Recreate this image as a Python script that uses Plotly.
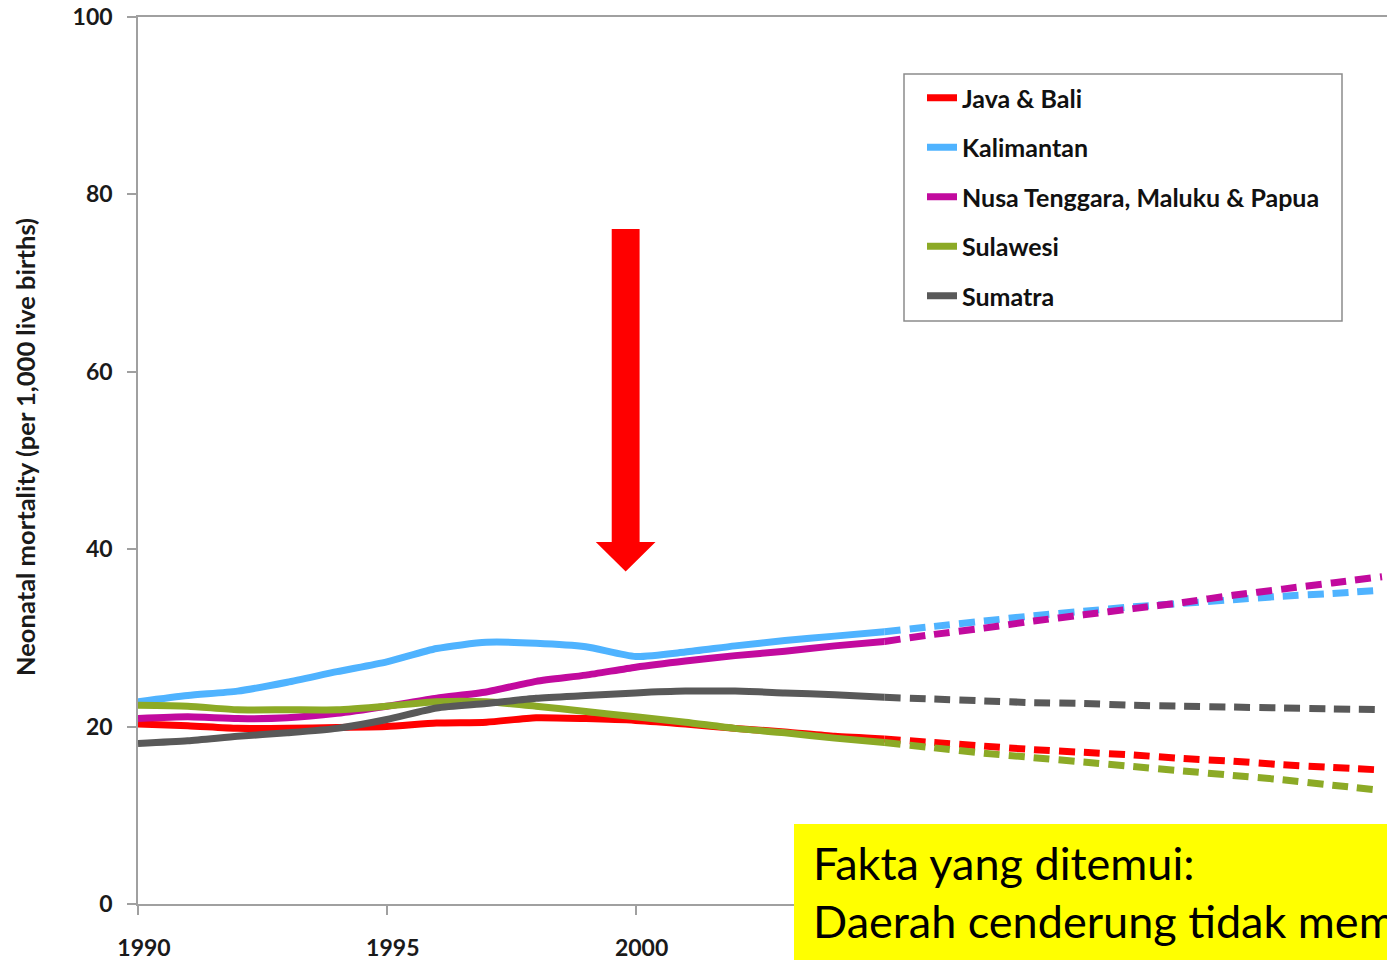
import plotly.graph_objects as go

years = list(range(1990, 2016))
last_observed = 2005

regions = ["Java & Bali", "Kalimantan", "Nusa Tenggara, Maluku & Papua", "Sulawesi", "Sumatra"]
colors = ["#FF0000", "#4FB3FF", "#C20A9E", "#8CAA26", "#595959"]

java_bali = [20.3, 20.1, 19.8, 19.8, 19.9, 20.0, 20.4, 20.5, 21.0, 20.9, 20.7, 20.3, 19.8, 19.4, 18.9, 18.6,
             18.2, 17.8, 17.4, 17.1, 16.8, 16.4, 16.1, 15.7, 15.4, 15.1]
kalimantan = [22.8, 23.5, 24.0, 25.0, 26.2, 27.3, 28.8, 29.5, 29.4, 29.0, 27.9, 28.4, 29.1, 29.7, 30.2, 30.7,
              31.3, 31.9, 32.5, 33.0, 33.5, 33.9, 34.3, 34.7, 35.0, 35.4]
nusa_tenggara = [20.9, 21.1, 20.9, 21.0, 21.5, 22.3, 23.2, 23.9, 25.1, 25.8, 26.7, 27.4, 28.0, 28.5, 29.1, 29.6,
                 30.4, 31.1, 31.9, 32.6, 33.3, 34.0, 34.8, 35.5, 36.2, 36.9]
sulawesi = [22.4, 22.3, 21.9, 21.9, 21.9, 22.3, 22.8, 22.8, 22.3, 21.7, 21.1, 20.5, 19.8, 19.3, 18.7, 18.2,
            17.6, 17.0, 16.5, 16.0, 15.5, 15.0, 14.5, 14.0, 13.4, 12.8]
sumatra = [18.1, 18.4, 18.9, 19.3, 19.8, 20.8, 22.1, 22.6, 23.2, 23.5, 23.8, 24.0, 24.0, 23.8, 23.6, 23.3,
           23.1, 22.9, 22.7, 22.6, 22.4, 22.3, 22.2, 22.1, 22.0, 21.9]

series = [java_bali, kalimantan, nusa_tenggara, sulawesi, sumatra]

x_ticks = [1990, 1995, 2000]
y_ticks = [0, 20, 40, 60, 80, 100]
y_title = "Neonatal mortality (per 1,000 live births)"

fig = go.Figure()
split = years.index(last_observed)
for name, col, vals in zip(regions, colors, series):
    fig.add_trace(go.Scatter(
        x=years[:split + 1], y=vals[:split + 1], mode="lines", name=name,
        legendgroup=name, line=dict(color=col, width=7, shape="spline", smoothing=0.6),
    ))
    fig.add_trace(go.Scatter(
        x=years[split:], y=vals[split:], mode="lines", name=name, showlegend=False,
        legendgroup=name, line=dict(color=col, width=7, dash="16px,9px", shape="spline", smoothing=0.6),
    ))

L, R, T, B = 138, 0, 17, 56
PW, PH = 1387 - L - R, 960 - T - B

def px(xp):
    return (xp - L) / PW

def py(yp):
    return (T + PH - yp) / PH

shapes = []
# legend border
shapes.append(dict(type="rect", xref="paper", yref="paper", x0=px(904), x1=px(1342), y0=py(321), y1=py(74),
                   line=dict(color="#8C8C8C", width=1.5), fillcolor="rgba(0,0,0,0)", layer="above"))
# red arrow (data coordinates)
arrow_path = ("M 1999.52 76.1 L 2000.08 76.1 L 2000.08 40.8 L 2000.4 40.8 L 1999.8 37.5 "
              "L 1999.2 40.8 L 1999.52 40.8 Z")
shapes.append(dict(type="path", xref="x", yref="y", path=arrow_path, fillcolor="#FF0000",
                   line=dict(color="#FF0000", width=0), layer="above"))
# yellow box
shapes.append(dict(type="rect", xref="paper", yref="paper", x0=px(794), x1=1.2, y0=py(1000), y1=py(824),
                   fillcolor="#FFFF00", line=dict(width=0), layer="above"))

annotations = [
    dict(xref="paper", yref="paper", x=px(811), y=py(863), xanchor="left", yanchor="middle",
         text="Fakta yang ditemui:", showarrow=False,
         font=dict(family="Lato", size=45, color="#000000")),
    dict(xref="paper", yref="paper", x=px(811), y=py(921), xanchor="left", yanchor="middle",
         text="Daerah cenderung tidak mem", showarrow=False,
         font=dict(family="Lato", size=45, color="#000000")),
    dict(xref="paper", yref="paper", x=px(25), y=py(447), xanchor="center", yanchor="middle",
         text=y_title, textangle=-90, showarrow=False,
         font=dict(family="Lato", size=25.5, color="#1A1A1A", weight="bold")),
]

fig.update_layout(
    width=1387, height=960,
    margin=dict(l=L, r=R, t=T, b=B, autoexpand=False),
    paper_bgcolor="white", plot_bgcolor="white",
    showlegend=True,
    legend=dict(x=px(922), y=py(75), xanchor="left", yanchor="top",
                bgcolor="rgba(0,0,0,0)", borderwidth=0, traceorder="grouped",
                tracegroupgap=14, itemwidth=30,
                font=dict(family="Lato", size=25, color="#111111", weight="bold")),
    shapes=shapes, annotations=annotations,
    xaxis=dict(range=[1990, 2015.1], tickvals=x_ticks, ticktext=[str(v) for v in x_ticks],
               showgrid=False, zeroline=False, showline=True, linecolor="#A0A0A0", linewidth=1.5,
               mirror=True, ticks="outside", ticklen=9, tickcolor="#A0A0A0", tickwidth=1.5,
               ticklabelstandoff=14, ticklabelshift=6,
               tickfont=dict(family="Lato", size=23, color="#1A1A1A", weight="bold")),
    yaxis=dict(range=[0, 100], tickvals=y_ticks, showgrid=False, zeroline=False, showline=True,
               linecolor="#A0A0A0", linewidth=1.5, ticks="outside", ticklen=9, tickcolor="#A0A0A0",
               tickwidth=1.5, ticklabelstandoff=10,
               tickfont=dict(family="Lato", size=23, color="#1A1A1A", weight="bold")),
)

fig.write_html("out.html", config={"displayModeBar": False},
               post_script="document.body.style.margin='0px';document.body.style.overflow='hidden';")
